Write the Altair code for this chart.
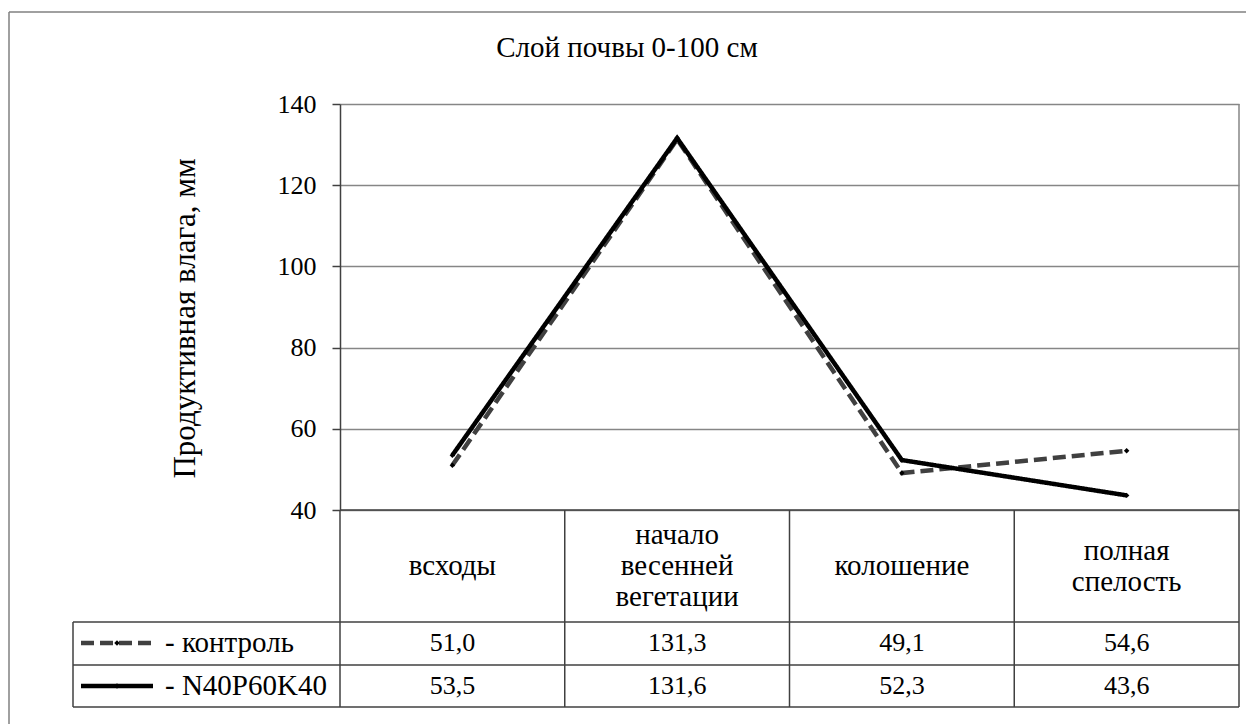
import altair as alt
import pandas as pd

# Growth stages (table header) and the two treatment series
stages = ["всходы", "начало весенней вегетации", "колошение", "полная спелость"]
stage_labels = ["всходы", "начало\nвесенней\nвегетации", "колошение", "полная\nспелость"]
control = [51.0, 131.3, 49.1, 54.6]
npk = [53.5, 131.6, 52.3, 43.6]
series_names = ["- контроль", "- N40P60K40"]
y_ticks = [40, 60, 80, 100, 120, 140]
chart_title = "Слой почвы 0-100 см"
y_title = "Продуктивная влага, мм"

# Plot-area size and its offset inside the 1246x724 canvas
W, H = 899, 406
PAD = {"left": 340, "top": 104, "right": 7, "bottom": 214}

SERIF = "'Liberation Serif', 'Times New Roman', serif"
GRID = "#868686"
DARK = "#404040"
LINE_H = 31

rows = []
for i, s in enumerate(stages):
    rows.append({"idx": i, "stage": s, "series": series_names[0], "value": control[i]})
    rows.append({"idx": i, "stage": s, "series": series_names[1], "value": npk[i]})
df = pd.DataFrame(rows)

def fmt(v):
    return f"{v:.1f}".replace(".", ",")

tbl = pd.DataFrame({
    "idx": list(range(len(stages))),
    "label": stage_labels,
    "nlines": [lab.count("\n") + 1 for lab in stage_labels],
    "c": [fmt(v) for v in control],
    "n": [fmt(v) for v in npk],
})
bounds = pd.DataFrame({"b": [i - 0.5 for i in range(len(stages) + 1)]})
one = pd.DataFrame({"k": [0]})

xs = alt.Scale(domain=[-0.5, len(stages) - 0.5], nice=False, zero=False)
X = alt.X("idx:Q", scale=xs, axis=None)

y_axis = alt.Axis(
    values=y_ticks, grid=True, gridColor=GRID, gridWidth=1.5,
    domainColor=DARK, domainWidth=1.5, tickColor=DARK, tickSize=8, tickWidth=1.5,
    labelFont=SERIF, labelFontSize=26, labelColor="black", labelPadding=16,
    title=y_title, titleFont=SERIF, titleFontSize=31, titleFontWeight="normal",
    titleColor="black", titleAngle=270, titleX=-155, titleY=214,
    titleAlign="center", titleBaseline="middle",
)
Y = alt.Y("value:Q", scale=alt.Scale(domain=[40, 140], nice=False, zero=False), axis=y_axis)

color = alt.Color("series:N", scale=alt.Scale(domain=series_names, range=[DARK, "black"]), legend=None)
dash = alt.StrokeDash("series:N", scale=alt.Scale(domain=series_names, range=[[13, 6], [1, 0]]), legend=None)

lines = alt.Chart(df).mark_line(strokeWidth=4.5).encode(
    x=X, y=Y, color=color, strokeDash=dash, order=alt.Order("idx:Q"), detail="series:N"
)
points = alt.Chart(df).mark_point(shape="diamond", filled=True, size=30, opacity=1, color="black").encode(
    x=X, y=alt.Y("value:Q")
)

# plot right border (grey) and table column separators
right_border = alt.Chart(bounds[bounds.b == bounds.b.max()]).mark_rule(color=GRID, strokeWidth=1.5).encode(
    x=alt.X("b:Q", scale=xs, axis=None), y=alt.value(0), y2=alt.value(H)
)
col_lines = alt.Chart(bounds).mark_rule(color=DARK, strokeWidth=1.5).encode(
    x=alt.X("b:Q", scale=xs, axis=None), y=alt.value(H), y2=alt.value(603)
)

def hrule(y, x0):
    return alt.Chart(one).mark_rule(color=DARK, strokeWidth=1.5).encode(
        x=alt.value(x0), x2=alt.value(W), y=alt.value(y)
    )

table_rules = [hrule(H, 0), hrule(518, -267), hrule(561, -267), hrule(603, -267)]
legend_left = alt.Chart(one).mark_rule(color=DARK, strokeWidth=1.5).encode(
    x=alt.value(-267), y=alt.value(518), y2=alt.value(603)
)

# header cells: block of lines centred vertically in the header row
header_layers = []
for n in sorted(tbl.nlines.unique()):
    header_layers.append(
        alt.Chart(tbl[tbl.nlines == n]).mark_text(
            font=SERIF, fontSize=29, lineBreak="\n", lineHeight=LINE_H, color="black", baseline="middle"
        ).encode(x=X, y=alt.value(462 - (n - 1) * LINE_H / 2), text="label:N")
    )

row_c = alt.Chart(tbl).mark_text(font=SERIF, fontSize=26, color="black", baseline="middle").encode(
    x=X, y=alt.value(539), text="c:N")
row_n = alt.Chart(tbl).mark_text(font=SERIF, fontSize=26, color="black", baseline="middle").encode(
    x=X, y=alt.value(582), text="n:N")

# legend keys inside the table's first column
leg = pd.DataFrame({"series": series_names, "ypos": [539, 582]})
def key(i):
    d = leg.iloc[[i]]
    yp = int(leg.ypos[i])
    sw = alt.Chart(d).mark_rule(strokeWidth=4.5).encode(
        x=alt.value(-259), x2=alt.value(-187), y=alt.value(yp),
        color=color, strokeDash=dash,
    )
    mk = alt.Chart(d).mark_point(shape="diamond", filled=True, size=30, opacity=1, color="black").encode(
        x=alt.value(-223), y=alt.value(yp)
    )
    tx = alt.Chart(d).mark_text(font=SERIF, fontSize=29, align="left", baseline="middle", color="black").encode(
        x=alt.value(-175), y=alt.value(yp), text="series:N"
    )
    return [sw, mk, tx]

title = alt.Chart(pd.DataFrame({"t": [chart_title]})).mark_text(
    font=SERIF, fontSize=29, color="black", baseline="middle"
).encode(x=alt.value(287), y=alt.value(-56), text="t:N")

frame_top = alt.Chart(one).mark_rule(color="#808080", strokeWidth=1.5).encode(
    x=alt.value(-331), x2=alt.value(906), y=alt.value(-92))
frame_left = alt.Chart(one).mark_rule(color="#808080", strokeWidth=1.5).encode(
    x=alt.value(-331), y=alt.value(-92), y2=alt.value(620))

chart = alt.layer(
    lines, points, right_border, col_lines, *table_rules, legend_left,
    *header_layers, row_c, row_n, *key(0), *key(1), title, frame_top, frame_left,
).properties(
    width=W, height=H, padding=PAD, autosize=alt.AutoSizeParams(type="none"),
    background="white",
).configure_view(stroke=None)

chart.save("out.html", embed_options={"renderer": "svg", "actions": False})
